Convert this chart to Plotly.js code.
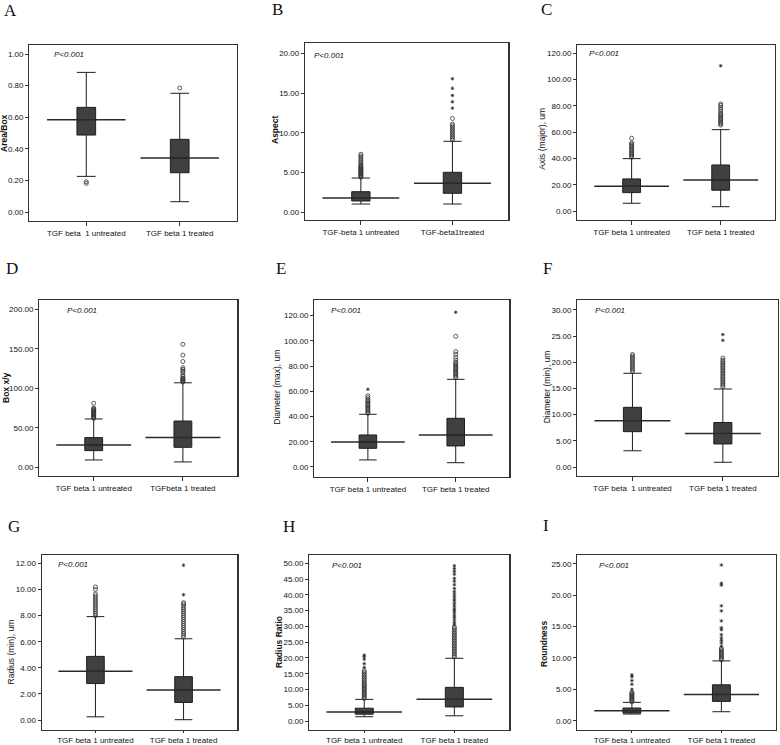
<!DOCTYPE html>
<html>
<head>
<meta charset="utf-8">
<script src="https://cdn.plot.ly/plotly-3.0.1.min.js"></script>
<style>html,body{margin:0;padding:0;background:#fff;}#chart{width:780px;height:745px;}</style>
</head>
<body>
<div id="chart"></div>
<script>
// ---------- DATA (stats order: lower whisker, Q1, median, Q3, upper whisker) ----------
const groups = [0, 1];

const A_untreated = [0.227, 0.488, 0.585, 0.663, 0.884];
const A_treated   = [0.067, 0.250, 0.343, 0.461, 0.752];
const A_circles_untreated = [0.183, 0.193];
const A_circles_treated   = [0.785];
const A_stars_untreated = [];
const A_stars_treated   = [];

const B_untreated = [1.04, 1.42, 1.80, 2.59, 4.31];
const B_treated   = [1.04, 2.39, 3.65, 5.03, 8.93];
const B_circles_untreated = [4.4, 4.5, 4.6, 4.7, 4.8, 4.9, 5.0, 5.1, 5.2, 5.3, 5.4, 5.5, 5.6, 5.7, 5.8, 5.9, 6.1, 6.3, 6.5, 6.7, 6.9, 7.1, 7.3];
const B_circles_treated   = [9.1, 9.3, 9.5, 9.7, 9.9, 10.1, 10.3, 10.5, 10.7, 10.9, 11.1, 11.8];
const B_stars_untreated = [];
const B_stars_treated   = [13.1, 13.9, 14.7, 15.6, 16.8];

const C_untreated = [6.1, 14.2, 19.0, 24.6, 40.0];
const C_treated   = [3.5, 16.0, 23.8, 35.2, 62.0];
const C_circles_untreated = [41, 42, 43, 44, 45, 46, 47, 48, 49, 50, 51, 52, 55.5];
const C_circles_treated   = [65.5, 66.5, 67.5, 68.5, 69.5, 70.5, 71.5, 72.5, 73.5, 74.5, 76, 77.5, 79, 80.5, 81.5];
const C_stars_untreated = [];
const C_stars_treated   = [110.5];

const D_untreated = [9.3, 21.1, 28.3, 37.6, 61.2];
const D_treated   = [6.8, 25.3, 37.6, 58.6, 107.0];
const D_circles_untreated = [62, 63, 64, 65, 66, 67, 68, 69, 70, 71, 72, 73, 74, 75, 81];
const D_circles_treated   = [108, 109, 110, 111, 112, 113, 115, 117, 120, 122, 124, 126, 134, 142, 155.7];
const D_stars_untreated = [];
const D_stars_treated   = [];

const E_untreated = [5.6, 14.8, 19.8, 25.4, 41.8];
const E_treated   = [3.4, 16.7, 25.4, 38.6, 69.5];
const E_circles_untreated = [42.5, 43.5, 44.5, 45.5, 46.5, 47.5, 48.5, 49.5, 50.5, 51.5, 52.5, 53.5, 55, 56.5];
const E_circles_treated   = [71, 72, 73, 74, 75, 76, 77, 78, 79, 80, 81, 82, 83, 85, 87, 89.5, 91.5, 103.6];
const E_stars_untreated = [61.6];
const E_stars_treated   = [122.7];

const F_untreated = [3.1, 6.75, 8.85, 11.4, 17.9];
const F_treated   = [0.9, 4.4, 6.4, 8.5, 14.9];
const F_circles_untreated = [18.2, 18.5, 18.8, 19.1, 19.4, 19.7, 20.0, 20.3, 20.6, 20.9, 21.2, 21.5];
const F_circles_treated   = [15.3, 15.6, 15.9, 16.2, 16.5, 16.8, 17.1, 17.4, 17.7, 18.0, 18.3, 18.6, 18.9, 19.2, 19.5, 19.8, 20.1, 20.4, 20.8];
const F_stars_untreated = [];
const F_stars_treated   = [24.2, 25.3];

const G_untreated = [0.25, 2.80, 3.74, 4.88, 7.93];
const G_treated   = [0.03, 1.35, 2.31, 3.33, 6.23];
const G_circles_untreated = [8.0, 8.15, 8.3, 8.45, 8.6, 8.75, 8.9, 9.05, 9.2, 9.35, 9.5, 9.65, 10.0, 10.2];
const G_circles_treated   = [6.35, 6.5, 6.65, 6.8, 6.95, 7.1, 7.25, 7.4, 7.55, 7.7, 7.85, 8.0, 8.15, 8.3, 8.45, 8.6, 8.75, 8.9, 9.0];
const G_stars_untreated = [];
const G_stars_treated   = [9.6, 11.87];

const H_untreated = [1.4, 2.2, 2.9, 4.1, 6.9];
const H_treated   = [1.7, 4.5, 6.9, 10.7, 19.9];
const H_circles_untreated = [7.2, 7.6, 8.0, 8.4, 8.8, 9.2, 9.6, 10.0, 10.4, 10.8, 11.2, 11.6, 12.0, 12.5, 13.0, 13.5, 14.0, 14.5, 15.0, 15.5, 16.0];
const H_circles_treated   = [20.3, 20.8, 21.3, 21.8, 22.3, 22.8, 23.3, 23.8, 24.3, 24.8, 25.3, 25.8, 26.3, 26.8, 27.3, 27.8, 28.3, 28.8, 29.3, 29.8];
const H_stars_untreated = [17.0, 18.2, 19.6, 20.4, 20.9];
const H_stars_treated   = [30.5, 31.2, 32.0, 32.8, 33.5, 34.3, 35.0, 35.6, 36.4, 37.2, 38.0, 38.6, 39.4, 40.2, 41.0, 42.0, 43.2, 44.3, 45.2, 46.5, 47.4, 48.3, 49.2];

const I_untreated = [1.06, 1.22, 1.59, 2.02, 2.92];
const I_treated   = [1.43, 3.08, 4.19, 5.72, 9.53];
const I_circles_untreated = [3.0, 3.15, 3.3, 3.45, 3.6, 3.75, 3.9, 4.05, 4.2, 4.35, 4.5];
const I_circles_treated   = [9.7, 9.9, 10.1, 10.3, 10.5, 10.7, 10.9, 11.1, 11.3, 11.5];
const I_stars_untreated = [5.0, 5.8, 6.4, 7.0, 7.3];
const I_stars_treated   = [11.9, 12.4, 12.8, 13.2, 13.7, 14.5, 14.8, 15.9, 17.5, 18.3, 21.6, 21.9, 24.8];

// tick labels / titles
const A_ticktext = ["TGF beta  1 untreated", "TGF beta 1 treated"];
const B_ticktext = ["TGF-beta 1 untreated", "TGF-beta1treated"];
const C_ticktext = ["TGF beta 1 untreated", "TGF beta 1 treated"];
const D_ticktext = ["TGF beta 1 untreated", "TGFbeta 1 treated"];
const E_ticktext = ["TGF beta 1 untreated", "TGF beta 1 treated"];
const F_ticktext = ["TGF beta  1 untreated", "TGF beta 1 treated"];
const G_ticktext = ["TGF beta 1 untreated", "TGF beta 1 treated"];
const H_ticktext = ["TGF beta 1 untreated", "TGF beta 1 treated"];
const I_ticktext = ["TGF beta 1 untreated", "TGF beta 1 treated"];

const panelLetters = ["A", "B", "C", "D", "E", "F", "G", "H", "I"];
const yTitles = ["Area/Box", "Aspect", "Axis (major), um", "Box x/y", "Diameter (max), um", "Diameter (min), um", "Radius (min), um", "Radius Ratio", "Roundness"];
const yTitleBold = [true, true, false, true, false, false, false, true, true];
const yDticks = [0.2, 5, 20, 50, 20, 5, 2, 5, 5];
const yTickMax = [1, 20, 120, 200, 120, 30, 12, 50, 25];
const pText = "P<0.001";

// ---------- LAYOUT GEOMETRY (pixels in 780x745 frame) ----------
const W = 780, H = 745;
const geom = [
  {frame: [29.3, 45, 236.7, 221],  yr: [-0.055, 1.057],  yt: [4, 133],    pt: [52, 54],     lt: [2, 11],   tl: 4},
  {frame: [305, 43.3, 508.3, 220], yr: [-0.97, 21.26],   yt: [275, 130],  pt: [312, 55],    lt: [270, 10], tl: 4},
  {frame: [577.3, 45, 775, 220],   yr: [-6.6, 126.3],    yt: [541.7, 139],pt: [587, 53],    lt: [539, 10], tl: 4},
  {frame: [39.3, 300, 237.3, 476], yr: [-11, 211.8],     yt: [6, 388],    pt: [65, 310],    lt: [4, 269],  tl: 4},
  {frame: [314.3, 300, 509.3, 476.7], yr: [-7.7, 132.4], yt: [276.7, 387],pt: [329, 310.7], lt: [274, 268.5], tl: 4},
  {frame: [577.3, 300, 778, 476],  yr: [-1.72, 31.9],    yt: [547.3, 387],pt: [593, 310.7], lt: [540.7, 268],  tl: 4},
  {frame: [41.7, 555, 237.3, 730],     yr: [-0.76, 12.65], yt: [10.7, 651.7], pt: [56.3, 564.3], lt: [5.7, 526], tl: 2},
  {frame: [309.3, 555, 509.3, 730],    yr: [-2.8, 52.6],   yt: [279, 642],    pt: [329.7, 565.7], lt: [280.7, 526], tl: 2},
  {frame: [577.3, 555, 776, 730],      yr: [-1.48, 26.4],  yt: [544, 644],    pt: [597, 565],     lt: [540.7, 525], tl: 2}
];
const xRange = [-0.61, 1.61];

// ---------- BUILD ----------
const statsList = [
  [A_untreated, A_treated], [B_untreated, B_treated], [C_untreated, C_treated],
  [D_untreated, D_treated], [E_untreated, E_treated], [F_untreated, F_treated],
  [G_untreated, G_treated], [H_untreated, H_treated], [I_untreated, I_treated]
];
const circlesList = [
  [A_circles_untreated, A_circles_treated], [B_circles_untreated, B_circles_treated], [C_circles_untreated, C_circles_treated],
  [D_circles_untreated, D_circles_treated], [E_circles_untreated, E_circles_treated], [F_circles_untreated, F_circles_treated],
  [G_circles_untreated, G_circles_treated], [H_circles_untreated, H_circles_treated], [I_circles_untreated, I_circles_treated]
];
const starsList = [
  [A_stars_untreated, A_stars_treated], [B_stars_untreated, B_stars_treated], [C_stars_untreated, C_stars_treated],
  [D_stars_untreated, D_stars_treated], [E_stars_untreated, E_stars_treated], [F_stars_untreated, F_stars_treated],
  [G_stars_untreated, G_stars_treated], [H_stars_untreated, H_stars_treated], [I_stars_untreated, I_stars_treated]
];
const ticktextList = [A_ticktext, B_ticktext, C_ticktext, D_ticktext, E_ticktext, F_ticktext, G_ticktext, H_ticktext, I_ticktext];

const FONT = "Liberation Sans, Arial, sans-serif";
const traces = [];
const layout = {
  width: W, height: H,
  margin: {l: 0, r: 0, t: 0, b: 0},
  paper_bgcolor: "#ffffff", plot_bgcolor: "#ffffff",
  showlegend: false,
  font: {family: FONT, color: "#111", size: 8},
  annotations: []
};

const boxWidth = 0.2;
const medianHalf = 0.42;

for (let p = 0; p < 9; p++) {
  const n = p + 1;
  const xa = n === 1 ? "x" : "x" + n;
  const ya = n === 1 ? "y" : "y" + n;
  const g = geom[p];
  const [fx0, fy0, fx1, fy1] = g.frame;

  layout[n === 1 ? "xaxis" : "xaxis" + n] = {
    domain: [fx0 / W, fx1 / W],
    anchor: ya,
    range: xRange,
    tickvals: groups,
    ticktext: ticktextList[p],
    ticks: "outside", ticklen: g.tl, tickwidth: 1, tickcolor: "#333",
    tickfont: {family: FONT, size: 8, color: "#111"},
    showline: true, mirror: true, linecolor: "#333", linewidth: 1.2,
    showgrid: false, zeroline: false, fixedrange: true
  };
  layout[n === 1 ? "yaxis" : "yaxis" + n] = {
    domain: [1 - fy1 / H, 1 - fy0 / H],
    anchor: xa,
    range: g.yr,
    tickmode: "array",
    tickvals: (() => { const v = []; for (let k = 0; k <= Math.round(yTickMax[p] / yDticks[p]); k++) v.push(+(k * yDticks[p]).toFixed(4)); return v; })(),
    tickformat: ".2f",
    ticks: "outside", ticklen: 3, tickwidth: 1, tickcolor: "#333",
    tickfont: {family: FONT, size: 8, color: "#111"},
    showline: true, mirror: true, linecolor: "#333", linewidth: 1.2,
    showgrid: false, zeroline: false, fixedrange: true
  };

  for (let gi = 0; gi < 2; gi++) {
    const s = statsList[p][gi];
    traces.push({
      type: "box", xaxis: xa, yaxis: ya,
      x: [groups[gi]],
      lowerfence: [s[0]], q1: [s[1]], median: [s[2]], q3: [s[3]], upperfence: [s[4]],
      width: boxWidth, whiskerwidth: 1,
      fillcolor: "#404040",
      line: {color: "#1e1e1e", width: 1},
      boxpoints: false, hoverinfo: "skip", showlegend: false
    });
    traces.push({
      type: "scatter", mode: "lines", xaxis: xa, yaxis: ya,
      x: [groups[gi] - medianHalf, groups[gi] + medianHalf],
      y: [s[2], s[2]],
      line: {color: "#2a2a2a", width: 1.5},
      hoverinfo: "skip", showlegend: false
    });
    const c = circlesList[p][gi];
    if (c.length) traces.push({
      type: "scatter", mode: "markers", xaxis: xa, yaxis: ya,
      x: c.map(() => groups[gi]), y: c,
      marker: {symbol: "circle-open", size: 4, color: "#333", line: {width: 0.8, color: "#333"}},
      hoverinfo: "skip", showlegend: false
    });
    const st = starsList[p][gi];
    if (st.length) traces.push({
      type: "scatter", mode: "markers", xaxis: xa, yaxis: ya,
      x: st.map(() => groups[gi]), y: st,
      marker: {symbol: "asterisk-open", size: 3, color: "#222", line: {width: 0.7, color: "#222"}},
      hoverinfo: "skip", showlegend: false
    });
  }

  // panel letter
  layout.annotations.push({
    xref: "paper", yref: "paper", x: g.lt[0] / W, y: 1 - g.lt[1] / H,
    xanchor: "left", yanchor: "middle", showarrow: false,
    text: panelLetters[p],
    font: {family: "Liberation Serif, Times New Roman, serif", size: 17, color: "#111"}
  });
  // y title
  layout.annotations.push({
    xref: "paper", yref: "paper", x: g.yt[0] / W, y: 1 - g.yt[1] / H,
    xanchor: "center", yanchor: "middle", showarrow: false, textangle: -90,
    text: yTitleBold[p] ? "<b>" + yTitles[p] + "</b>" : yTitles[p],
    font: {family: FONT, size: 8.5, color: "#111"}
  });
  // P value
  layout.annotations.push({
    xref: "paper", yref: "paper", x: g.pt[0] / W, y: 1 - g.pt[1] / H,
    xanchor: "left", yanchor: "middle", showarrow: false,
    text: "<i>" + pText + "</i>",
    font: {family: FONT, size: 8, color: "#111"}
  });
}

Plotly.newPlot("chart", traces, layout, {staticPlot: true, displayModeBar: false});
</script>
</body>
</html>
